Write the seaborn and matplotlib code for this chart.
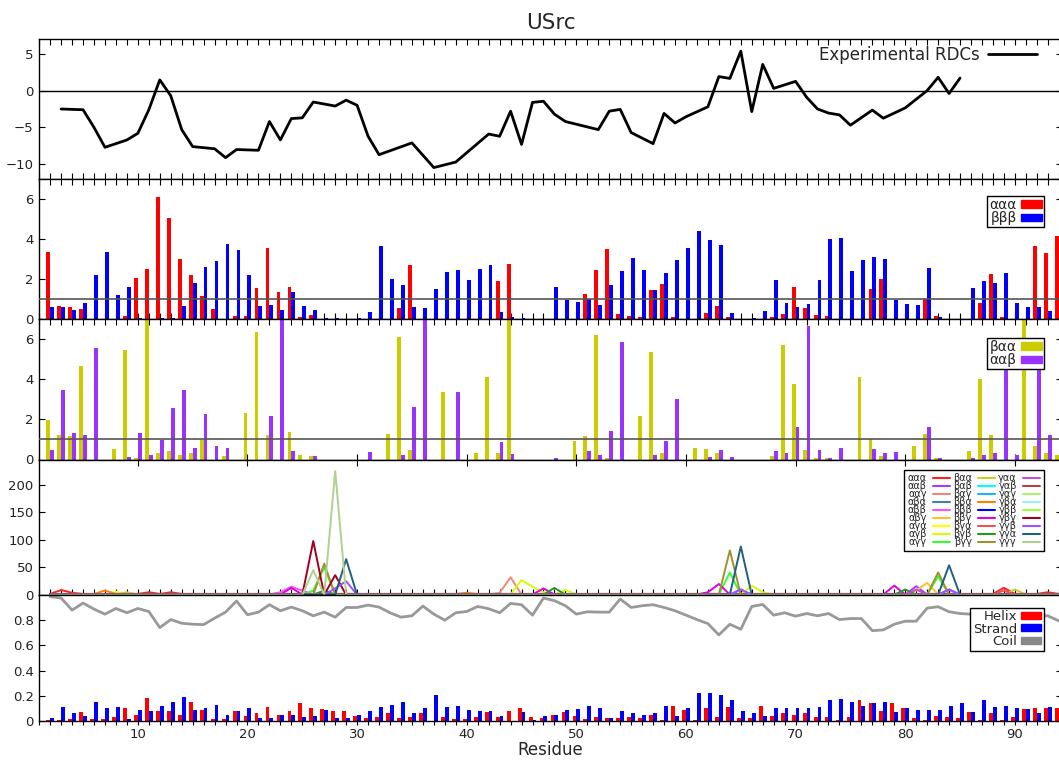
import numpy as np
import pandas as pd
import seaborn as sns
import matplotlib
matplotlib.use("Agg")
import matplotlib.pyplot as plt
from matplotlib.ticker import MultipleLocator, FixedLocator, FuncFormatter
from matplotlib.patches import Patch
from matplotlib.lines import Line2D

# ---------------- data ----------------
RES = list(range(2, 95))

# experimental RDCs
RDC_RES = [3, 5, 6, 7, 9, 10, 11, 12, 13, 14, 15, 17, 18, 19, 21, 22, 23, 24, 25, 26,
           28, 29, 30, 31, 32, 35, 37, 39, 42, 43, 44, 45, 46, 47, 48, 49, 52, 53, 54, 55,
           57, 58, 59, 60, 62, 63, 64, 65, 66, 67, 68, 70, 71, 72, 73, 74, 75, 77, 78, 80,
           82, 83, 84, 85]
RDC_VAL = [-2.5, -2.6, -5.0, -7.7, -6.7, -5.8, -2.6, 1.45, -0.7, -5.3,
           -7.6, -7.9, -9.1, -8.0, -8.1, -4.2, -6.7, -3.8, -3.7, -1.55,
           -2.1, -1.3, -2.0, -6.2, -8.7, -7.1, -10.45, -9.7, -5.9, -6.2,
           -2.8, -7.3, -1.6, -1.45, -3.2, -4.2, -5.3, -2.8, -2.55, -5.7,
           -7.2, -3.1, -4.4, -3.55, -2.2, 1.9, 1.65, 5.35, -2.85, 3.55,
           0.3, 1.25, -0.9, -2.5, -3.05, -3.3, -4.7, -2.65, -3.75, -2.35,
           0.0, 1.8, -0.4, 1.7]

# panel 2 : aaa / bbb  (residues 2..94)
AAA = [3.34, 0.67, 0.59, 0.52, 0.0, 0.0, 0.0, 0.15, 2.05, 2.49,
       6.1, 5.03, 3.0, 2.22, 1.16, 0.49, 0.0, 0.15, 0.17, 1.53,
       3.55, 1.36, 1.58, 0.12, 0.2, 0.0, 0.0, 0.0, 0.0, 0.0,
       0.0, 0.0, 0.57, 2.69, 0.0, 0.0, 0.0, 0.0, 0.0, 0.0,
       0.0, 1.88, 2.76, 0.0, 0.0, 0.0, 0.0, 0.0, 0.0, 1.26,
       2.44, 3.48, 0.24, 0.17, 0.12, 1.43, 1.75, 0.08, 0.0, 0.0,
       0.32, 0.67, 0.12, 0.0, 0.0, 0.0, 0.1, 0.27, 1.61, 0.57,
       0.22, 0.17, 0.0, 0.0, 0.0, 1.5, 2.0, 0.0, 0.0, 0.0,
       0.99, 0.17, 0.0, 0.0, 0.0, 0.82, 2.27, 0.08, 0.0, 0.0,
       3.63, 3.29, 4.15]
BBB = [0.62, 0.62, 0.47, 0.81, 2.18, 3.33, 1.18, 1.58, 0.07, 0.02,
       0.03, 0.07, 0.66, 1.78, 2.62, 2.89, 3.75, 3.43, 2.18, 0.66,
       0.71, 0.45, 1.33, 0.67, 0.47, 0.07, 0.05, 0.0, 0.06, 0.34,
       3.63, 2.02, 1.68, 0.6, 0.57, 1.51, 2.37, 2.44, 1.97, 2.5,
       2.72, 0.37, 0.12, 0.05, 0.0, 0.0, 1.58, 0.96, 0.87, 0.99,
       0.72, 1.68, 2.39, 3.04, 2.47, 1.43, 2.29, 2.94, 3.55, 4.4,
       3.93, 3.68, 0.29, 0.0, 0.03, 0.42, 1.93, 0.82, 0.62, 0.77,
       1.95, 3.98, 4.07, 2.39, 2.94, 3.09, 2.99, 0.96, 0.74, 0.71,
       2.57, 0.12, 0.0, 0.0, 1.53, 1.92, 1.82, 2.29, 0.82, 0.61,
       0.59, 0.4, 0.0]

# panel 3 : baa / aab
BAA = [1.99, 1.24, 1.19, 4.66, 0.0, 0.0, 0.53, 5.45, 0.05, 7.8,
       0.33, 0.43, 0.23, 0.32, 0.97, 0.0, 0.18, 0.0, 2.34, 6.33,
       1.24, 0.0, 1.37, 0.23, 0.18, 0.0, 0.0, 0.0, 0.0, 0.0,
       0.0, 1.29, 6.1, 0.48, 0.0, 0.0, 3.38, 0.0, 0.0, 0.3,
       4.1, 0.33, 7.8, 0.0, 0.0, 0.0, 0.0, 0.0, 0.93, 1.18,
       6.22, 0.05, 0.0, 0.0, 2.18, 5.37, 0.33, 0.0, 0.0, 0.57,
       0.5, 0.3, 0.0, 0.0, 0.0, 0.0, 0.17, 5.68, 3.78, 0.47,
       0.08, 0.08, 0.0, 0.0, 4.13, 1.0, 0.17, 0.0, 0.0, 0.65,
       1.25, 0.08, 0.0, 0.0, 0.43, 4.0, 1.22, 0.0, 0.0, 7.8,
       0.68, 0.3, 0.23]
AAB = [0.48, 3.44, 1.3, 1.24, 5.55, 0.0, 0.0, 0.12, 1.32, 0.23,
       0.95, 2.59, 3.46, 0.58, 2.27, 0.65, 0.55, 0.0, 0.0, 0.0,
       2.19, 7.8, 0.4, 0.0, 0.15, 0.0, 0.0, 0.0, 0.0, 0.38,
       0.0, 0.0, 0.22, 2.64, 7.8, 0.0, 0.0, 3.38, 0.0, 0.0,
       0.0, 0.89, 0.28, 0.0, 0.0, 0.0, 0.08, 0.0, 0.0, 0.43,
       0.22, 1.42, 5.83, 0.0, 0.0, 0.2, 0.93, 3.02, 0.0, 0.0,
       0.13, 0.48, 0.13, 0.0, 0.0, 0.0, 0.4, 0.3, 1.6, 6.63,
       0.48, 0.08, 0.55, 0.0, 0.0, 0.53, 0.33, 0.38, 0.0, 0.0,
       1.6, 0.05, 0.0, 0.0, 0.08, 0.22, 0.33, 5.0, 0.2, 0.0,
       5.0, 1.22, 0.0]

# panel 4 : triplet populations
TRIPLETS = ["ααα", "ααβ", "ααγ", "αβα", "αββ", "αβγ", "αγα", "αγβ", "αγγ",
            "βαα", "βαβ", "βαγ", "ββα", "βββ", "ββγ", "βγα", "βγβ", "βγγ",
            "γαα", "γαβ", "γαγ", "γβα", "γββ", "γβγ", "γγβ", "γγα", "γγγ"]
TRIPLET_COLORS = ["#ff2020", "#a040ff", "#f08878", "#3a80b0", "#ff50ff", "#ffc030",
                  "#ffff00", "#d4ff00", "#33ff33",
                  "#cccc22", "#00ffff", "#20b0ff", "#ff8000", "#0000ff", "#e000e0",
                  "#f05050", "#229922", "#a09030",
                  "#c050d0", "#b04050", "#b0f070", "#a0f0f0", "#a0ff40", "#a00020",
                  "#a050ff", "#206080", "#b0d090"]
TRIPLET_BASE = [2.0, 0.8, 1.0, 0.6, 1.0, 1.2, 1.0, 1.0, 0.6,
                1.2, 0.6, 0.8, 2.0, 2.5, 0.8, 0.8, 0.6, 0.4,
                0.3, 0.3, 0.3, 0.3, 0.3, 0.3, 0.3, 0.3, 0.3]
TRIPLET_PEAKS = [{3: 9, 4: 4, 11: 5, 13: 5, 89: 13, 93: 5},
                 {65: 10, 81: 16, 84: 10},
                 {43: 4, 44: 32},
                 {},
                 {23: 5, 24: 15, 25: 8},
                 {81: 8, 82: 22},
                 {8: 6},
                 {45: 27, 46: 15, 47: 5, 49: 9, 66: 17, 67: 5},
                 {26: 8, 27: 50, 64: 41, 83: 34},
                 {9: 5, 90: 10},
                 {},
                 {},
                 {7: 8, 40: 4},
                 {},
                 {24: 13, 47: 12, 62: 5, 63: 20, 79: 17},
                 {89: 8},
                 {27: 8, 48: 13, 80: 10},
                 {27: 57, 64: 81, 83: 41},
                 {81: 10},
                 {}, {}, {}, {},
                 {26: 98, 28: 36},
                 {28: 12, 29: 25, 65: 10, 84: 10},
                 {29: 65, 65: 88, 84: 54},
                 {26: 45, 28: 225}]

# panel 5 : secondary structure
HELIX = [0.01, 0.01, 0.013, 0.075, 0.013, 0.016, 0.035, 0.1, 0.048, 0.18,
         0.08, 0.08, 0.05, 0.152, 0.088, 0.013, 0.013, 0.083, 0.043, 0.06,
         0.115, 0.05, 0.083, 0.144, 0.1, 0.093, 0.08, 0.08, 0.043, 0.02,
         0.035, 0.06, 0.027, 0.032, 0.06, 0.0, 0.032, 0.013, 0.013, 0.035,
         0.07, 0.032, 0.08, 0.1, 0.03, 0.02, 0.048, 0.07, 0.043, 0.016,
         0.035, 0.02, 0.02, 0.035, 0.027, 0.045, 0.01, 0.123, 0.09, 0.01,
         0.1, 0.035, 0.112, 0.02, 0.02, 0.123, 0.043, 0.067, 0.05, 0.067,
         0.035, 0.035, 0.01, 0.035, 0.163, 0.141, 0.083, 0.139, 0.107, 0.02,
         0.01, 0.043, 0.032, 0.02, 0.072, 0.01, 0.067, 0.01, 0.03, 0.093,
         0.104, 0.1, 0.1]
STRAND = [0.02, 0.115, 0.06, 0.043, 0.147, 0.1, 0.11, 0.016, 0.09, 0.083,
          0.123, 0.152, 0.187, 0.09, 0.1, 0.128, 0.045, 0.083, 0.1, 0.024,
          0.02, 0.05, 0.05, 0.03, 0.043, 0.088, 0.027, 0.027, 0.045, 0.083,
          0.115, 0.125, 0.147, 0.064, 0.1, 0.203, 0.115, 0.123, 0.088, 0.083,
          0.08, 0.04, 0.0, 0.07, 0.01, 0.037, 0.048, 0.09, 0.096, 0.123,
          0.107, 0.02, 0.083, 0.06, 0.05, 0.06, 0.123, 0.043, 0.107, 0.224,
          0.224, 0.203, 0.163, 0.08, 0.067, 0.043, 0.1, 0.107, 0.1, 0.107,
          0.115, 0.163, 0.176, 0.152, 0.123, 0.139, 0.152, 0.07, 0.107, 0.09,
          0.09, 0.09, 0.123, 0.139, 0.072, 0.168, 0.112, 0.12, 0.1, 0.093,
          0.067, 0.115, 0.0]
COIL_RES = list(range(2, 87)) + [93, 94]
COIL = [0.987, 0.976, 0.88, 0.936, 0.888, 0.848, 0.893, 0.859, 0.893, 0.869,
        0.741, 0.805, 0.776, 0.768, 0.765, 0.816, 0.864, 0.952, 0.843, 0.864,
        0.923, 0.875, 0.904, 0.875, 0.835, 0.864, 0.824, 0.901, 0.901, 0.92,
        0.904, 0.859, 0.824, 0.835, 0.912, 0.848, 0.8, 0.859, 0.869, 0.909,
        0.891, 0.859, 0.933, 0.923, 0.84, 0.976, 0.955, 0.915, 0.848, 0.867,
        0.864, 0.864, 0.968, 0.901, 0.915, 0.923, 0.901, 0.875, 0.84, 0.805,
        0.773, 0.683, 0.768, 0.728, 0.909, 0.925, 0.84, 0.859, 0.832, 0.853,
        0.835, 0.853, 0.805, 0.813, 0.813, 0.717, 0.723, 0.768, 0.792, 0.792,
        0.896, 0.907, 0.867, 0.853, 0.848, 0.835, 0.795]

# ---------------- style ----------------
sns.set_theme(style="white")
plt.rcParams["font.family"] = ["DejaVu Sans"]
plt.rcParams["axes.edgecolor"] = "black"
plt.rcParams["axes.linewidth"] = 1.0
plt.rcParams["xtick.color"] = "black"
plt.rcParams["ytick.color"] = "black"
plt.rcParams["xtick.labelcolor"] = "#222222"
plt.rcParams["ytick.labelcolor"] = "#222222"

W, H = 1059, 760
fig = plt.figure(figsize=(W / 100, H / 100), dpi=100)


def panel(top, bottom):
    return fig.add_axes([39.2 / W, 1 - bottom / H, (1062 - 39.2) / W, (bottom - top) / H])


ax1 = panel(39, 179)
ax2 = panel(179, 319)
ax3 = panel(319, 459.5)
ax4 = panel(459.5, 595)
ax5 = panel(595, 721)
axes = [ax1, ax2, ax3, ax4, ax5]

leg_kw = dict(frameon=True, fancybox=False, edgecolor="black", framealpha=1,
              markerfirst=False, borderaxespad=0)

# panel 1: experimental RDCs
rdc = pd.DataFrame({"Residue": RDC_RES, "RDC": RDC_VAL})
sns.lineplot(data=rdc, x="Residue", y="RDC", color="black", linewidth=2, ax=ax1)
ax1.axhline(0, color="black", linewidth=1)
ax1.set_ylim(-12, 7)
ax1.yaxis.set_major_locator(FixedLocator([-10, -5, 0, 5]))
ax1.legend(handles=[Line2D([], [], color="black", lw=2)], labels=["Experimental RDCs"],
           loc="upper right", bbox_to_anchor=(0.99, 1.055), frameon=False,
           markerfirst=False, fontsize=12, handlelength=2.9, handletextpad=0.5)
ax1.set_title("USrc", fontsize=15.5, pad=7)


def bar_panel(ax, first, second, names, colors):
    df = pd.DataFrame({"Residue": RES + RES,
                       "value": first + second,
                       "kind": [names[0]] * len(RES) + [names[1]] * len(RES)})
    sns.barplot(data=df, x="Residue", y="value", hue="kind", hue_order=names,
                palette=colors, native_scale=True, width=0.7, errorbar=None,
                saturation=1, linewidth=0, legend=False, ax=ax)


# panel 2
bar_panel(ax2, AAA, BBB, ["ααα", "βββ"], ["#ff0000", "#0000ff"])
ax2.axhline(1, color="#555555", linewidth=1.2, zorder=5)
ax2.set_ylim(0, 7)
ax2.yaxis.set_major_locator(FixedLocator([0, 2, 4, 6]))
ax2.legend(handles=[Patch(color="#ff0000"), Patch(color="#0000ff")], labels=["ααα", "βββ"],
           loc="upper right", bbox_to_anchor=(0.982, 0.879), fontsize=10,
           handlelength=1.5, handleheight=0.45, labelspacing=-0.05, borderpad=0.15,
           handletextpad=0.3, **leg_kw)

# panel 3
bar_panel(ax3, BAA, AAB, ["βαα", "ααβ"], ["#cccc00", "#9933ff"])
ax3.axhline(1, color="#555555", linewidth=1.2, zorder=5)
ax3.set_ylim(0, 7)
ax3.yaxis.set_major_locator(FixedLocator([0, 2, 4, 6]))
ax3.legend(handles=[Patch(color="#cccc00"), Patch(color="#9933ff")], labels=["βαα", "ααβ"],
           loc="upper right", bbox_to_anchor=(0.982, 0.865), fontsize=10,
           handlelength=1.5, handleheight=0.45, labelspacing=-0.05, borderpad=0.15,
           handletextpad=0.3, **leg_kw)

# panel 4
rows = []
for name, base, peaks in zip(TRIPLETS, TRIPLET_BASE, TRIPLET_PEAKS):
    for r in RES:
        rows.append((r, peaks.get(r, base), name))
trip = pd.DataFrame(rows, columns=["Residue", "pop", "triplet"])
sns.lineplot(data=trip, x="Residue", y="pop", hue="triplet", hue_order=TRIPLETS,
             palette=dict(zip(TRIPLETS, TRIPLET_COLORS)), linewidth=1.4,
             estimator=None, errorbar=None, legend=False, ax=ax4)
ax4.set_ylim(0, 246)
ax4.yaxis.set_major_locator(FixedLocator([0, 50, 100, 150, 200]))
ax4.legend(handles=[Line2D([], [], color=c, lw=1.5) for c in TRIPLET_COLORS], labels=TRIPLETS,
           ncol=3, loc="upper right", bbox_to_anchor=(0.982, 0.926), fontsize=7,
           handlelength=1.8, handletextpad=0.6, columnspacing=0.3, labelspacing=-0.2,
           borderpad=0.35, **leg_kw)

# panel 5
bar_panel(ax5, HELIX, STRAND, ["Helix", "Strand"], ["#ff0000", "#0000ff"])
coil = pd.DataFrame({"Residue": COIL_RES, "Coil": COIL})
sns.lineplot(data=coil, x="Residue", y="Coil", color="#999999", linewidth=2, ax=ax5)
ax5.set_ylim(0, 1)
ax5.yaxis.set_major_locator(FixedLocator([0, 0.2, 0.4, 0.6, 0.8]))
ax5.yaxis.set_major_formatter(FuncFormatter(lambda v, p: "0" if v == 0 else f"{v:.1f}"))
ax5.legend(handles=[Patch(color="#ff0000"), Patch(color="#0000ff"), Patch(color="#888888")],
           labels=["Helix", "Strand", "Coil"], loc="upper right", bbox_to_anchor=(0.982, 0.9),
           fontsize=9.5, handlelength=1.5, handleheight=0.45, labelspacing=-0.05,
           borderpad=0.2, handletextpad=0.3, **leg_kw)

# ---------------- axes cosmetics ----------------
for ax in axes:
    ax.set_xlim(1, 94.3)
    ax.xaxis.set_major_locator(MultipleLocator(10))
    ax.xaxis.set_minor_locator(MultipleLocator(1))
    ax.tick_params(axis="x", which="both", direction="in", length=4, width=0.8,
                   top=True, bottom=True, labelbottom=False)
    ax.tick_params(axis="y", which="both", direction="in", length=4, width=0.8,
                   left=True, right=True, labelsize=9.5, pad=4)
    ax.set_xlabel("")
    ax.set_ylabel("")

ax3.tick_params(axis="x", which="minor", bottom=False)
ax4.tick_params(axis="x", which="minor", top=False)
ax5.tick_params(axis="x", which="both", direction="out", length=3, pad=2, top=False,
                labelbottom=True, labelsize=9.5)
ax5.set_xlabel("Residue", fontsize=12, labelpad=0)

fig.savefig("out.png", dpi=100)
